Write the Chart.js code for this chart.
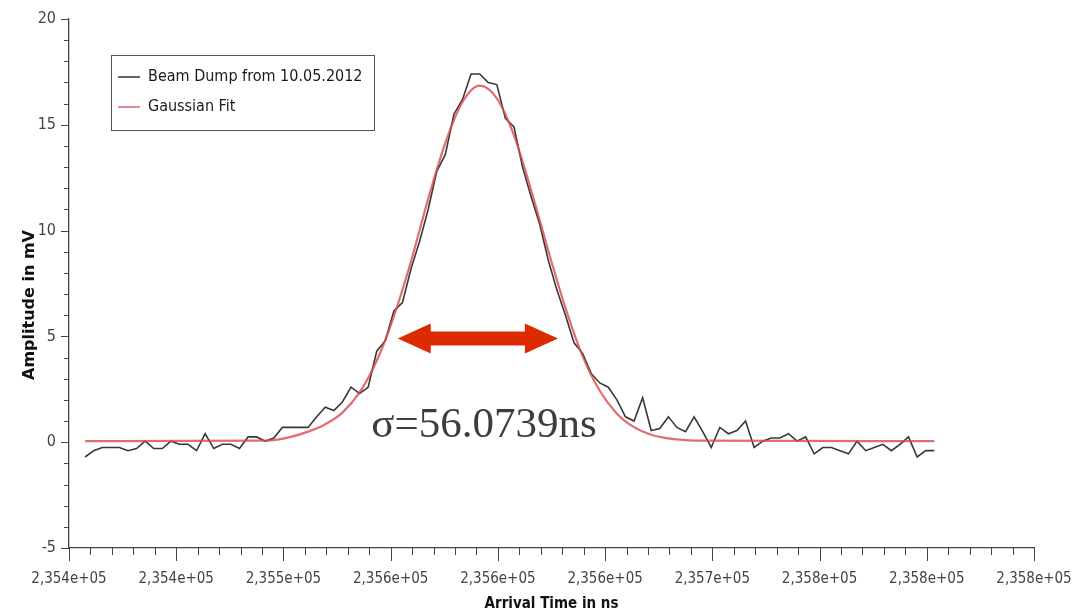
<!DOCTYPE html>
<html>
<head>
<meta charset="utf-8">
<script src="https://cdn.jsdelivr.net/npm/chart.js@4.4.1/dist/chart.umd.min.js"></script>
<style>
  html, body { margin: 0; padding: 0; background: #ffffff; }
  #wrap { width: 1079px; height: 613px; position: relative; }
</style>
</head>
<body>
<div id="wrap"><canvas id="c" width="1079" height="613"></canvas></div>
<script>
// Digitizer trace of the beam dump, one sample every 4 ns
const SAMPLE_START_NS = 235407.5;
const SAMPLE_STEP_NS = 4;
const beamDumpMv = [
  -0.7, -0.4, -0.25, -0.25, -0.25, -0.4, -0.3, 0.05, -0.3, -0.3,
  0.05, -0.1, -0.1, -0.4, 0.4, -0.3, -0.1, -0.1, -0.3, 0.25,
  0.25, 0.05, 0.2, 0.7, 0.7, 0.7, 0.7, 1.2, 1.65, 1.5,
  1.9, 2.6, 2.3, 2.6, 4.3, 4.8, 6.2, 6.6, 8.2, 9.5,
  11.0, 12.8, 13.6, 15.5, 16.2, 17.4, 17.4, 17.0, 16.9, 15.3,
  14.9, 13.0, 11.6, 10.3, 8.6, 7.2, 6.0, 4.7, 4.2, 3.25,
  2.8, 2.6, 2.0, 1.2, 1.0, 2.1, 0.55, 0.65, 1.2, 0.7,
  0.5, 1.2, 0.5, -0.25, 0.7, 0.4, 0.55, 1.0, -0.25, 0.05,
  0.2, 0.2, 0.4, 0.05, 0.25, -0.55, -0.25, -0.25, -0.4, -0.55,
  0.05, -0.4, -0.25, -0.1, -0.4, -0.1, 0.25, -0.7, -0.4, -0.4
];

// Gaussian fit curve, evaluated at these times
const fitTimesNs = [
  235407.5, 235487.5, 235495.5, 235503.5, 235511.5, 235519.5, 235527.5, 235535.5,
  235543.5, 235551.5, 235559.5, 235567.5, 235575.5, 235583.5, 235591.5, 235599.5,
  235607.5, 235615.5, 235623.5, 235631.5, 235639.5, 235647.5, 235655.5, 235663.5,
  235671.5, 235679.5, 235687.5, 235695.5, 235803.5
];
const fitMv = [
  0.05, 0.07, 0.1, 0.25, 0.5, 0.85, 1.4, 2.35,
  3.85, 5.95, 8.55, 11.5, 14.15, 16.08, 16.85, 16.25,
  14.5, 11.92, 9.05, 6.35, 4.07, 2.43, 1.35, 0.71,
  0.35, 0.18, 0.1, 0.07, 0.05
];

// Axis ranges and tick labels
const X_MIN = 235400, X_MAX = 235850, X_MAJOR = 50, X_MINOR = 10;
const Y_MIN = -5, Y_MAX = 20, Y_MAJOR = 5, Y_MINOR = 1;
const xTickLabels = [
  '2,354e+05', '2,354e+05', '2,355e+05', '2,356e+05', '2,356e+05',
  '2,356e+05', '2,357e+05', '2,358e+05', '2,358e+05', '2,358e+05'
];
const yTickLabels = ['-5', '0', '5', '10', '15', '20'];

// Annotation: double arrow across the pulse and the fitted width
const arrowFromNs = 235553.3, arrowToNs = 235628.0, arrowMv = 4.9;
const sigmaText = 'σ=56.0739ns';
const sigmaAtNs = 235541, sigmaAtMv = 0.24;

const AXIS_COLOR = '#444444';
const TICK_FONT = '"Liberation Sans Narrow", "DejaVu Sans Condensed", "Open Sans", sans-serif';

const decor = {
  id: 'decor',
  afterDraw(chart) {
    const ctx = chart.ctx;
    const xs = chart.scales.x, ys = chart.scales.y;
    const area = chart.chartArea;
    ctx.save();

    // tick marks (major and minor)
    ctx.strokeStyle = AXIS_COLOR;
    ctx.lineWidth = 1;
    for (let v = X_MIN; v <= X_MAX + 1e-6; v += X_MINOR) {
      const px = Math.round(xs.getPixelForValue(v)) + 0.5;
      const major = Math.abs((v - X_MIN) % X_MAJOR) < 1e-6;
      ctx.beginPath();
      ctx.moveTo(px, area.bottom);
      ctx.lineTo(px, area.bottom + (major ? 13 : 7));
      ctx.stroke();
    }
    for (let v = Y_MIN; v <= Y_MAX + 1e-6; v += Y_MINOR) {
      const py = Math.round(ys.getPixelForValue(v)) + 0.5;
      const major = Math.abs((v - Y_MIN) % Y_MAJOR) < 1e-6;
      ctx.beginPath();
      ctx.moveTo(area.left, py);
      ctx.lineTo(area.left - (major ? 8 : 5), py);
      ctx.stroke();
    }

    // axis titles
    ctx.fillStyle = '#111111';
    ctx.textAlign = 'center';
    ctx.textBaseline = 'middle';
    ctx.font = 'bold 15px ' + TICK_FONT;
    ctx.fillText('Arrival Time in ns', (area.left + area.right) / 2, 604);
    ctx.save();
    ctx.translate(30, 305);
    ctx.rotate(-Math.PI / 2);
    ctx.font = 'bold 16px "DejaVu Sans", sans-serif';
    ctx.fillText('Amplitude in mV', 0, 0);
    ctx.restore();

    // legend box
    const lx = 111, ly = 55, lw = 263, lh = 75;
    ctx.fillStyle = '#ffffff';
    ctx.fillRect(lx, ly, lw, lh);
    ctx.strokeStyle = '#555555';
    ctx.lineWidth = 1;
    ctx.strokeRect(lx + 0.5, ly + 0.5, lw, lh);
    const entries = [
      { ds: chart.data.datasets[0], y: 77 },
      { ds: chart.data.datasets[1], y: 107 }
    ];
    ctx.font = '16px ' + TICK_FONT;
    ctx.textAlign = 'left';
    for (const e of entries) {
      ctx.strokeStyle = e.ds.legendColor;
      ctx.lineWidth = 2;
      ctx.beginPath();
      ctx.moveTo(118, e.y);
      ctx.lineTo(140, e.y);
      ctx.stroke();
      ctx.fillStyle = '#1a1a1a';
      ctx.fillText(e.ds.label, 148, e.y);
    }

    // double-headed arrow
    const ax1 = xs.getPixelForValue(arrowFromNs);
    const ax2 = xs.getPixelForValue(arrowToNs);
    const ay = ys.getPixelForValue(arrowMv);
    const head = 33, half = 15, shaft = 7;
    ctx.fillStyle = '#dd2a00';
    ctx.beginPath();
    ctx.moveTo(ax1, ay);
    ctx.lineTo(ax1 + head, ay - half);
    ctx.lineTo(ax1 + head, ay - shaft);
    ctx.lineTo(ax2 - head, ay - shaft);
    ctx.lineTo(ax2 - head, ay - half);
    ctx.lineTo(ax2, ay);
    ctx.lineTo(ax2 - head, ay + half);
    ctx.lineTo(ax2 - head, ay + shaft);
    ctx.lineTo(ax1 + head, ay + shaft);
    ctx.lineTo(ax1 + head, ay + half);
    ctx.closePath();
    ctx.fill();

    // fitted width
    ctx.fillStyle = '#3d3d3d';
    ctx.font = '43px "Liberation Serif", serif';
    ctx.textAlign = 'left';
    ctx.textBaseline = 'alphabetic';
    ctx.fillText(sigmaText, xs.getPixelForValue(sigmaAtNs), ys.getPixelForValue(sigmaAtMv));

    ctx.restore();
  }
};

new Chart(document.getElementById('c'), {
  type: 'line',
  data: {
    datasets: [
      {
        label: 'Beam Dump from 10.05.2012',
        data: beamDumpMv.map((v, i) => ({ x: SAMPLE_START_NS + i * SAMPLE_STEP_NS, y: v })),
        borderColor: '#383838',
        legendColor: '#666666',
        borderWidth: 1.6,
        pointRadius: 0,
        tension: 0,
        order: 1
      },
      {
        label: 'Gaussian Fit',
        data: fitTimesNs.map((t, i) => ({ x: t, y: fitMv[i] })),
        borderColor: 'rgba(218, 72, 72, 0.8)',
        legendColor: '#e08a8a',
        borderWidth: 2.2,
        pointRadius: 0,
        cubicInterpolationMode: 'monotone',
        order: 0
      }
    ]
  },
  options: {
    responsive: false,
    animation: false,
    devicePixelRatio: 1,
    layout: { padding: { left: 0, right: 45, top: 19, bottom: 0 } },
    plugins: { legend: { display: false }, tooltip: { enabled: false } },
    scales: {
      x: {
        type: 'linear',
        min: X_MIN,
        max: X_MAX,
        afterFit(scale) {
          scale.height = 65;
          scale.paddingLeft = 0;
          scale.paddingRight = 0;
        },
        afterBuildTicks(scale) {
          const t = [];
          for (let v = X_MIN; v <= X_MAX; v += X_MAJOR) t.push({ value: v });
          scale.ticks = t;
        },
        ticks: {
          autoSkip: false,
          maxRotation: 0,
          padding: 22,
          color: AXIS_COLOR,
          font: { family: TICK_FONT, size: 15 },
          callback(v) { return xTickLabels[Math.round((v - X_MIN) / X_MAJOR)]; }
        },
        grid: { drawOnChartArea: false, drawTicks: false },
        border: { color: AXIS_COLOR, width: 1.3 }
      },
      y: {
        type: 'linear',
        min: Y_MIN,
        max: Y_MAX,
        afterFit(scale) {
          scale.width = 69;
          scale.paddingTop = 0;
          scale.paddingBottom = 0;
        },
        afterBuildTicks(scale) {
          const t = [];
          for (let v = Y_MIN; v <= Y_MAX; v += Y_MAJOR) t.push({ value: v });
          scale.ticks = t;
        },
        ticks: {
          autoSkip: false,
          padding: 13,
          color: AXIS_COLOR,
          font: { family: TICK_FONT, size: 16 },
          callback(v) { return yTickLabels[Math.round((v - Y_MIN) / Y_MAJOR)]; }
        },
        grid: { drawOnChartArea: false, drawTicks: false },
        border: { color: AXIS_COLOR, width: 1.3 }
      }
    }
  },
  plugins: [decor]
});
</script>
</body>
</html>
